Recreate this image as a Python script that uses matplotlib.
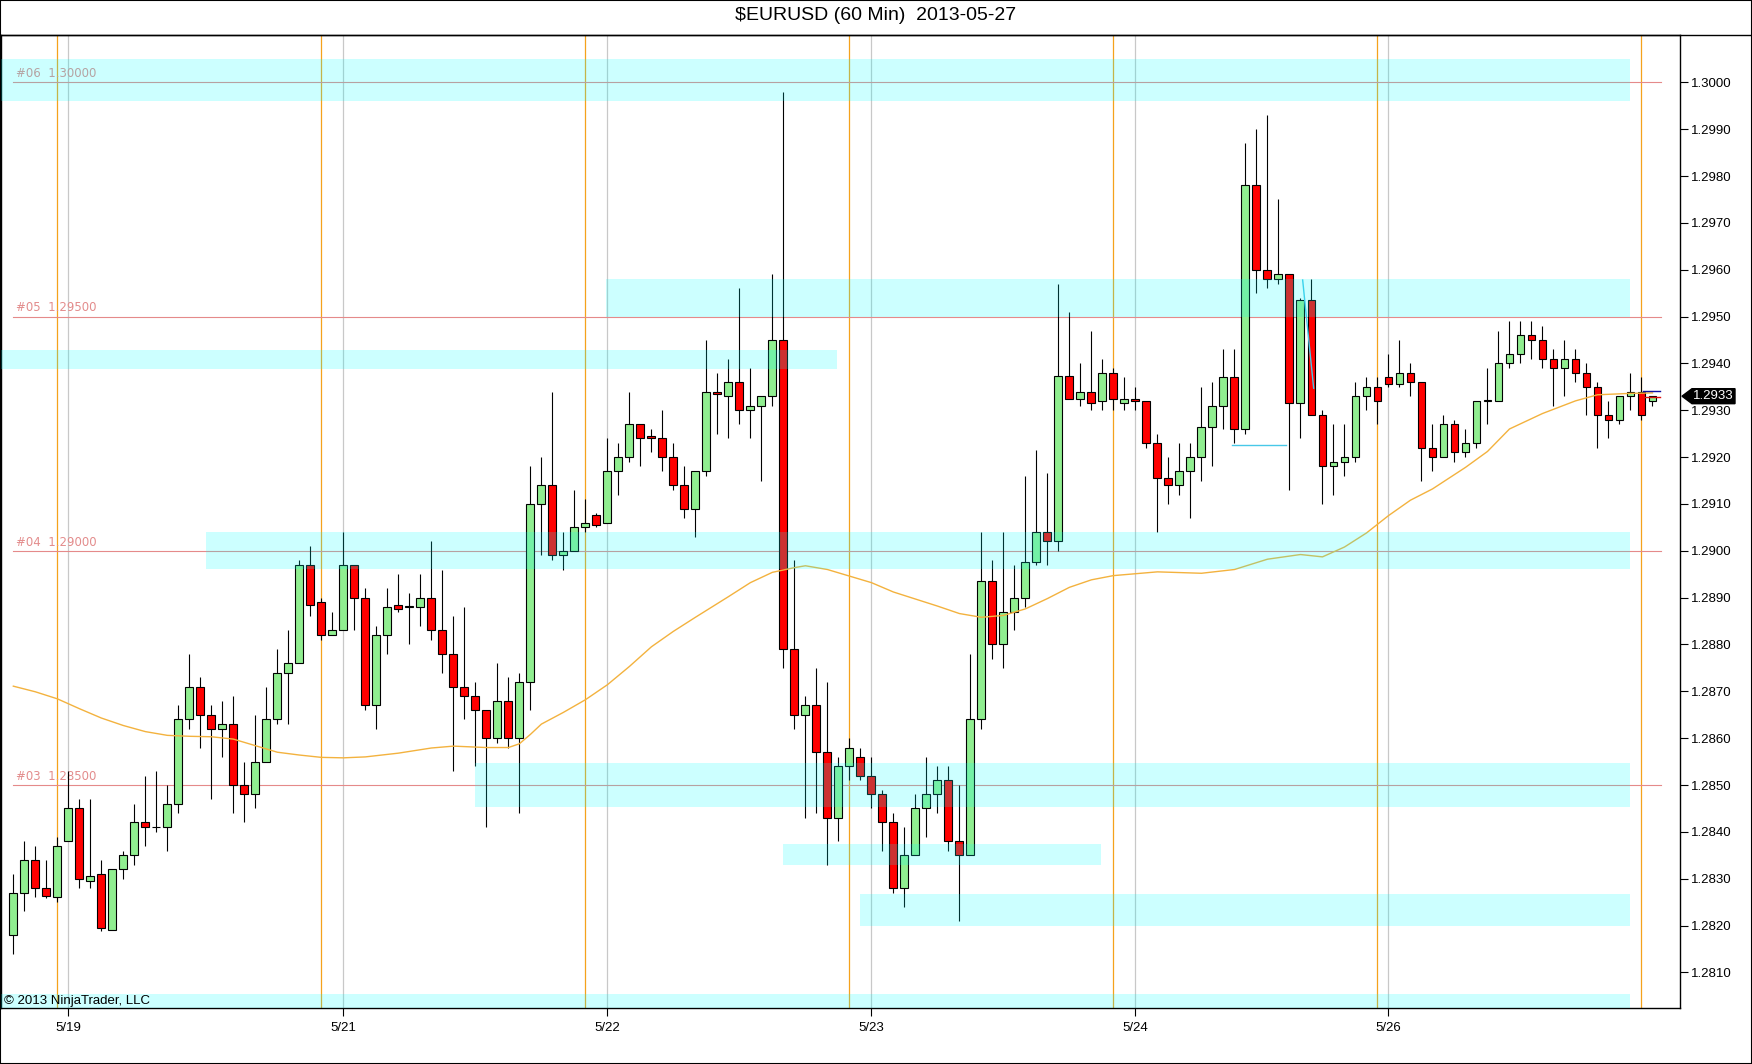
import numpy as np
import matplotlib
matplotlib.use("Agg")
import matplotlib.pyplot as plt
from matplotlib.patches import Rectangle, Polygon
import matplotlib.transforms as mtransforms

plt.rcParams['font.family'] = ['Liberation Sans', 'DejaVu Sans']

# hourly OHLC, bar 0 .. 149
opens = [1.2818, 1.2827, 1.2834, 1.2828, 1.2826, 1.2838, 1.2845, 1.28295, 1.2831, 1.2819,
         1.2832, 1.2835, 1.2842, 1.2841, 1.2841, 1.2846, 1.2864, 1.2871, 1.2865, 1.2862,
         1.2863, 1.2850, 1.2848, 1.2855, 1.2864, 1.2874, 1.2876, 1.2897, 1.2889, 1.2882,
         1.2883, 1.2897, 1.2890, 1.2867, 1.2882, 1.28884, 1.2888, 1.2888, 1.2890, 1.2883,
         1.2878, 1.2871, 1.2869, 1.2866, 1.2860, 1.2868, 1.2860, 1.2872, 1.2910, 1.2914,
         1.2899, 1.2900, 1.2905, 1.29076, 1.2906, 1.2917, 1.2920, 1.2927, 1.29245, 1.2924,
         1.2920, 1.2914, 1.2909, 1.2917, 1.2934, 1.2933, 1.2936, 1.2930, 1.2931, 1.2933,
         1.2945, 1.2879, 1.2865, 1.2867, 1.2857, 1.2843, 1.2854, 1.2856, 1.2852, 1.2848,
         1.2842, 1.2828, 1.2835, 1.2845, 1.2848, 1.2851, 1.2838, 1.2835, 1.2864, 1.28935,
         1.2880, 1.2887, 1.2890, 1.28975, 1.2904, 1.2902, 1.29374, 1.29325, 1.2934, 1.2932,
         1.2938, 1.29315, 1.29325, 1.2932, 1.2923, 1.29155, 1.2914, 1.2917, 1.2920, 1.29265,
         1.2931, 1.2937, 1.2926, 1.2978, 1.2960, 1.2958, 1.2959, 1.29315, 1.29535, 1.2929,
         1.2918, 1.2919, 1.2920, 1.2933, 1.2935, 1.2937, 1.29355, 1.2938, 1.2936, 1.2922,
         1.2920, 1.2927, 1.2921, 1.2923, 1.2932, 1.2932, 1.2940, 1.2942, 1.2946, 1.2945,
         1.2941, 1.2939, 1.2941, 1.2938, 1.2935, 1.2929, 1.2928, 1.2933, 1.2934, 1.2932]
highs = [1.2831, 1.2838, 1.2837, 1.2834, 1.2839, 1.2853, 1.2847, 1.2847, 1.2834, 1.2832,
         1.2836, 1.2846, 1.2852, 1.2853, 1.2850, 1.2867, 1.2878, 1.2873, 1.2867, 1.2868,
         1.2869, 1.2855, 1.2865, 1.2871, 1.2879, 1.2883, 1.2898, 1.2901, 1.2890, 1.2887,
         1.2904, 1.2897, 1.2892, 1.2884, 1.2892, 1.2895, 1.2891, 1.2895, 1.2902, 1.2896,
         1.2886, 1.2888, 1.2872, 1.2866, 1.2876, 1.2873, 1.2874, 1.2918, 1.2920, 1.2934,
         1.2904, 1.2913, 1.2911, 1.2908, 1.2924, 1.2923, 1.2934, 1.2927, 1.2926, 1.2930,
         1.2923, 1.2918, 1.2917, 1.2945, 1.2938, 1.2941, 1.2956, 1.2939, 1.2933, 1.2959,
         1.2998, 1.2898, 1.2869, 1.2875, 1.2872, 1.2856, 1.2860, 1.2858, 1.2856, 1.2849,
         1.2844, 1.2841, 1.2848, 1.2856, 1.2854, 1.2854, 1.2850, 1.2878, 1.2904, 1.2898,
         1.2904, 1.2897, 1.2916, 1.29215, 1.29165, 1.2957, 1.2951, 1.2940, 1.2947, 1.2941,
         1.2939, 1.2937, 1.2935, 1.2932, 1.2925, 1.2920, 1.2923, 1.2923, 1.2935, 1.2936,
         1.2943, 1.2943, 1.2987, 1.2990, 1.2993, 1.2975, 1.2959, 1.2954, 1.2958, 1.2930,
         1.2927, 1.2927, 1.2936, 1.2937, 1.2937, 1.2942, 1.2945, 1.2940, 1.2936, 1.2927,
         1.2929, 1.2928, 1.2926, 1.2932, 1.2939, 1.2947, 1.2949, 1.2949, 1.2949, 1.2948,
         1.2943, 1.2945, 1.2943, 1.2940, 1.2936, 1.2932, 1.2933, 1.2938, 1.2937, 1.2933]
lows = [1.2814, 1.2823, 1.2826, 1.28258, 1.2825, 1.2838, 1.2828, 1.2828, 1.28189, 1.2819,
        1.2830, 1.2833, 1.2837, 1.2840, 1.2836, 1.2844, 1.2862, 1.2858, 1.2847, 1.2856,
        1.2844, 1.2842, 1.2845, 1.2855, 1.2863, 1.2863, 1.2876, 1.2886, 1.2881, 1.2882,
        1.2883, 1.2883, 1.2866, 1.2862, 1.2878, 1.2887, 1.2880, 1.2884, 1.2881, 1.2874,
        1.2853, 1.2864, 1.2854, 1.2841, 1.2859, 1.2858, 1.2844, 1.2866, 1.2899, 1.2898,
        1.2896, 1.2900, 1.2904, 1.2905, 1.2906, 1.2912, 1.2919, 1.2918, 1.2921, 1.2917,
        1.2913, 1.2907, 1.2903, 1.2916, 1.2925, 1.2924, 1.2927, 1.2924, 1.2915, 1.2931,
        1.2875, 1.2862, 1.2843, 1.2844, 1.2833, 1.2838, 1.2851, 1.2851, 1.2845, 1.2836,
        1.2827, 1.2824, 1.2835, 1.2839, 1.2844, 1.2836, 1.2821, 1.2835, 1.2862, 1.2877,
        1.2875, 1.2883, 1.2888, 1.2897, 1.2897, 1.2900, 1.2933, 1.2931, 1.2930, 1.2930,
        1.2930, 1.2930, 1.2930, 1.2922, 1.2904, 1.2910, 1.2912, 1.2907, 1.2915, 1.2918,
        1.2926, 1.2923, 1.2925, 1.2955, 1.2956, 1.2957, 1.2913, 1.2924, 1.2929, 1.2910,
        1.2912, 1.2916, 1.2919, 1.2930, 1.2927, 1.2935, 1.2935, 1.2933, 1.2915, 1.2917,
        1.2920, 1.2919, 1.2920, 1.2922, 1.2927, 1.2932, 1.2939, 1.2940, 1.2941, 1.2939,
        1.2931, 1.2933, 1.2936, 1.2929, 1.2922, 1.2924, 1.2927, 1.2930, 1.2928, 1.2931]
closes = [1.2827, 1.2834, 1.2828, 1.28264, 1.2837, 1.2845, 1.2830, 1.28305, 1.28194, 1.2832,
          1.2835, 1.2842, 1.2841, 1.2841, 1.2846, 1.2864, 1.2871, 1.2865, 1.2862, 1.2863,
          1.2850, 1.2848, 1.2855, 1.2864, 1.2874, 1.2876, 1.2897, 1.28885, 1.2882, 1.2883,
          1.2897, 1.2890, 1.2867, 1.2882, 1.2888, 1.28876, 1.2888, 1.2890, 1.2883, 1.2878,
          1.2871, 1.2869, 1.2866, 1.2860, 1.2868, 1.2860, 1.2872, 1.2910, 1.2914, 1.2899,
          1.2900, 1.2905, 1.2906, 1.29055, 1.2917, 1.2920, 1.2927, 1.2924, 1.2924, 1.2920,
          1.2914, 1.2909, 1.2917, 1.2934, 1.29335, 1.2936, 1.2930, 1.2931, 1.2933, 1.2945,
          1.2879, 1.2865, 1.2867, 1.2857, 1.2843, 1.2854, 1.2858, 1.2852, 1.2848, 1.2842,
          1.2828, 1.2835, 1.2845, 1.2848, 1.2851, 1.2838, 1.2835, 1.2864, 1.28935, 1.2880,
          1.2887, 1.2890, 1.28975, 1.2904, 1.2902, 1.29374, 1.29325, 1.2934, 1.29315, 1.2938,
          1.29325, 1.29325, 1.2932, 1.2923, 1.29155, 1.2914, 1.2917, 1.2920, 1.29265, 1.2931,
          1.2937, 1.2926, 1.2978, 1.2960, 1.2958, 1.2959, 1.29315, 1.29535, 1.2929, 1.2918,
          1.2919, 1.2920, 1.2933, 1.2935, 1.2932, 1.29355, 1.2938, 1.2936, 1.2922, 1.2920,
          1.2927, 1.2921, 1.2923, 1.2932, 1.2932, 1.2940, 1.2942, 1.2946, 1.2945, 1.2941,
          1.2939, 1.2941, 1.2938, 1.2935, 1.2929, 1.2928, 1.2933, 1.2934, 1.2929, 1.2933]

# moving average (bar index, value)
ma_bars = [0, 2, 4, 6, 8, 10, 12, 14, 16, 18, 20, 22, 24, 26, 28, 30, 32, 35, 38, 40,
           43, 45, 46, 47, 48, 50, 52, 54, 56, 58, 60, 62, 65, 67, 69, 71, 72, 74, 76, 78,
           80, 82, 84, 86, 88, 90, 92, 94, 96, 98, 100, 104, 108, 111, 114, 117, 119, 121,
           123, 125, 127, 129, 132, 134, 136, 139, 142, 144, 147, 149]
ma_vals = [1.28711, 1.28699, 1.28684, 1.28663, 1.28643, 1.28627, 1.28614, 1.28606, 1.28604, 1.28603,
           1.28598, 1.28584, 1.28570, 1.28564, 1.28559, 1.28558, 1.28560, 1.28568, 1.28579, 1.28583,
           1.28580, 1.28580, 1.28588, 1.28608, 1.28630, 1.28655, 1.28682, 1.28714, 1.28753, 1.28795,
           1.28828, 1.28858, 1.28902, 1.28932, 1.28954, 1.28964, 1.28968, 1.28960, 1.28946, 1.28932,
           1.28912, 1.28897, 1.28882, 1.28866, 1.28858, 1.28862, 1.28876, 1.28898, 1.28922, 1.28938,
           1.28947, 1.28955, 1.28952, 1.28960, 1.28982, 1.28992, 1.28987, 1.29008, 1.29038, 1.29075,
           1.29108, 1.29132, 1.29178, 1.29212, 1.29260, 1.29293, 1.29320, 1.29333, 1.29336, 1.29337]

# support / resistance zones
zone_lo = [1.2996, 1.2950, 1.29387, 1.28962, 1.28452, 1.2833, 1.2820, 1.2800]
zone_hi = [1.3005, 1.2958, 1.29429, 1.2904, 1.28548, 1.28374, 1.28268, 1.28053]
zone_start = [-1.2, 53.9, -1.2, 17.5, 42.0, 70.0, 77.0, -1.2]
zone_end = [147, 147, 74.9, 147, 147, 98.9, 147, 147]

levels = [1.3000, 1.2950, 1.2900, 1.2850]
level_labels = ['#06  1.30000', '#05  1.29500', '#04  1.29000', '#03  1.28500']

session_bars = [4, 28, 52, 76, 100, 124, 148]
date_bars = [5, 30, 54, 78, 102, 125]
date_labels = ['5/19', '5/21', '5/22', '5/23', '5/24', '5/26']

last_price = 1.2933

W, H = 1752, 1064
fig = plt.figure(figsize=(W / 100, H / 100), dpi=100)
ax = fig.add_axes([1 / W, 1 - 1008 / H, 1679 / W, (1008 - 35) / H])

n = len(opens)
x = np.arange(n)
o = np.array(opens); h = np.array(highs); l = np.array(lows); c = np.array(closes)
up = c >= o

ax.set_xlim(-1.12, 151.5)
ax.set_ylim(1.28024, 1.30101)

# vertical session / date lines
for b in date_bars:
    ax.axvline(b, color='#c8c8c8', lw=0.9, zorder=1)
for b in session_bars:
    ax.axvline(b, color='#f5a21c', lw=0.9, zorder=1)

# level lines and labels
for lv, lab in zip(levels, level_labels):
    ax.plot([0, 149.8], [lv, lv], color='#e58a8a', lw=0.8, zorder=1)
    ax.annotate(lab, (0.25, lv), xytext=(0, 1.5), textcoords='offset points',
                fontsize=8.5, color='#e38c8c', family=['DejaVu Sans'], va='bottom', zorder=1)

# candles
ax.vlines(x, l, h, color='black', lw=0.8, zorder=2)
body_lo = np.minimum(o, c)
body_h = np.maximum(np.abs(c - o), 0.000012)
ax.bar(x, body_h, bottom=body_lo, width=0.72,
       color=np.where(up, '#90ee90', '#ff0000'), edgecolor='black', linewidth=0.8, zorder=3)

# moving average
ax.plot(ma_bars, ma_vals, color='#f3b23e', lw=1.0, zorder=4)

# small trend lines
ax.plot([110.8, 115.7], [1.29226, 1.29226], color='#48c8e8', lw=1.0, zorder=4)
ax.plot([117.2, 118.2], [1.29578, 1.29347], color='#48c8e8', lw=1.0, zorder=4)
ax.plot([148.1, 149.7], [1.29341, 1.29341], color='#1010a0', lw=1.0, zorder=4)
ax.plot([148.1, 149.7], [1.29329, 1.29329], color='#e01010', lw=1.0, zorder=4)

# zones on top
for lo, hi, x0, x1 in zip(zone_lo, zone_hi, zone_start, zone_end):
    ax.add_patch(Rectangle((x0, lo), x1 - x0, hi - lo, facecolor='#00ffff', alpha=0.2,
                           edgecolor='none', zorder=5))

# axes styling
for s in ax.spines.values():
    s.set_color('black')
    s.set_linewidth(1.0)
ax.yaxis.tick_right()
yt = np.round(np.arange(1.2810, 1.30001, 0.001), 4)
ax.set_yticks(yt)
ax.set_yticklabels(['%.4f' % v for v in yt])
ax.tick_params(axis='y', direction='out', length=6, width=0.8, pad=2, labelsize=9.5)
ax.set_xticks(date_bars)
ax.set_xticklabels(date_labels)
ax.tick_params(axis='x', direction='out', length=6, width=0.8, pad=4, labelsize=9.5)

# last price tag
tr = mtransforms.blended_transform_factory(fig.transFigure, ax.transData)
hh = 0.00016
tag = Polygon([(1682 / W, last_price), (1692 / W, last_price + hh), (1735 / W, last_price + hh),
               (1735 / W, last_price - hh), (1692 / W, last_price - hh)],
              closed=True, facecolor='black', edgecolor='black', transform=tr, clip_on=False, zorder=10)
ax.add_patch(tag)
ax.text(1713 / W, last_price, '%.4f' % last_price, transform=tr, color='white', fontsize=9.5,
        ha='center', va='center', zorder=11, clip_on=False)

# title and separator
fig.text(0.5, 1 - 15 / H, '$EURUSD (60 Min)  2013-05-27', ha='center', va='center', fontsize=14)
fig.add_artist(plt.Line2D([0, 1], [1 - 35 / H, 1 - 35 / H], color='black', lw=1.0,
                          transform=fig.transFigure))
fig.text(4 / W, 1 - 1001 / H, '\u00a9 2013 NinjaTrader, LLC', ha='left', va='center', fontsize=9.5)

# outer border
fig.add_artist(Rectangle((0, 0), 1, 1, transform=fig.transFigure, fill=False,
                         edgecolor='black', lw=1.5))

fig.savefig('out.png', dpi=100)
